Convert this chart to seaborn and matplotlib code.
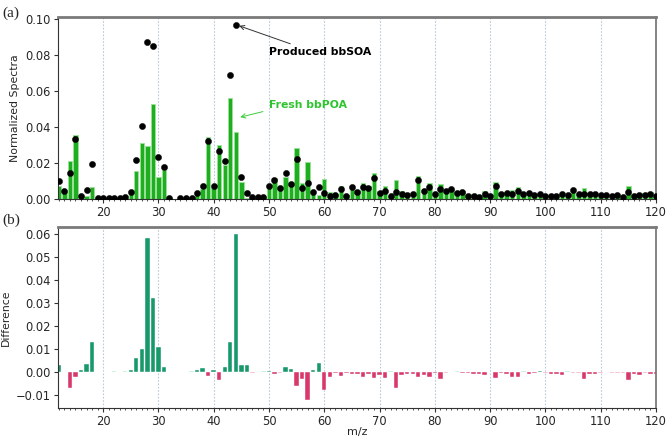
import numpy as np
import pandas as pd
import matplotlib
matplotlib.use("Agg")
import matplotlib.pyplot as plt
from matplotlib.ticker import MultipleLocator
import seaborn as sns

nan = np.nan
mz = list(range(12, 121))

fresh_bbpoa = [
    0.0073, 0.0044, 0.021, 0.0356, 0.001, 0.0017, 0.0067, 0.0005, 0.0004, 0.0004,   # 12-21
    0.0002, 0.0004, 0.0009, 0.003, 0.0157, 0.031, 0.0294, 0.053, 0.0124, 0.016,     # 22-31
    0.0003, nan, 0.0003, 0.0003, 0.0001, 0.0024, 0.0056, 0.0343, 0.0062, 0.0301,     # 32-41
    0.0188, 0.0563, 0.037, 0.0093, 0.0006, 0.0015, 0.0007, 0.001, 0.0065, 0.0115,    # 42-51
    0.0065, 0.012, 0.0072, 0.0285, 0.0089, 0.0207, 0.003, 0.0023, 0.011, 0.0037,     # 52-61
    0.0028, 0.0072, 0.0023, 0.0078, 0.005, 0.009, 0.0073, 0.0143, 0.0045, 0.0072,    # 62-71
    0.0014, 0.0106, 0.0042, 0.0034, 0.0039, 0.0128, 0.0058, 0.0089, 0.0032, 0.0085,  # 72-81
    0.0045, 0.0056, 0.0028, 0.0043, 0.0023, 0.0029, 0.0023, 0.0043, 0.0019, 0.0097,  # 82-91
    0.0032, 0.0041, 0.0048, 0.0065, 0.0027, 0.0043, 0.0026, 0.0024, 0.0017, 0.0026,  # 92-101
    0.0027, 0.0039, 0.0021, 0.0052, 0.0028, 0.006, 0.0033, 0.0039, 0.0023, 0.0022,   # 102-111
    0.0021, 0.0024, 0.0016, 0.0074, 0.0026, 0.0034, 0.0024, 0.0039, 0.0026,          # 112-120
]

produced_bbsoa = [
    0.0102, 0.0045, 0.0143, 0.0333, 0.0017, 0.005, 0.0194, 0.0005, 0.0004, 0.0004,   # 12-21
    0.0005, 0.0004, 0.0013, 0.004, 0.0217, 0.0407, 0.0874, 0.085, 0.0235, 0.018,     # 22-31
    0.0003, nan, 0.0003, 0.0003, 0.0004, 0.0035, 0.0073, 0.0324, 0.0072, 0.0265,     # 32-41
    0.021, 0.069, 0.0965, 0.0125, 0.0035, 0.0013, 0.0009, 0.0013, 0.007, 0.0108,     # 42-51
    0.0063, 0.0143, 0.0085, 0.0222, 0.006, 0.0089, 0.004, 0.0065, 0.0035, 0.0017,    # 52-61
    0.0022, 0.0053, 0.0017, 0.0068, 0.0039, 0.0069, 0.0063, 0.0115, 0.0033, 0.0046,  # 62-71
    0.0017, 0.0037, 0.0028, 0.0024, 0.003, 0.0105, 0.0044, 0.0069, 0.0028, 0.0056,   # 72-81
    0.0043, 0.0056, 0.0031, 0.0037, 0.0019, 0.0019, 0.0013, 0.003, 0.0019, 0.007,    # 82-91
    0.0026, 0.0031, 0.0026, 0.0043, 0.003, 0.0033, 0.0022, 0.003, 0.0015, 0.0017,    # 92-101
    0.0017, 0.0026, 0.0024, 0.005, 0.0026, 0.003, 0.0026, 0.003, 0.002, 0.0024,      # 102-111
    0.0019, 0.0022, 0.0013, 0.0037, 0.0019, 0.002, 0.0022, 0.003, 0.0019,            # 112-120
]

difference = [
    0.0029, 0.0, -0.0069, -0.0022, 0.0007, 0.0033, 0.0131, 0.0, 0.0, 0.0,            # 12-21
    0.0003, 0.0, 0.0004, 0.0011, 0.0062, 0.010, 0.0579, 0.032, 0.011, 0.002,         # 22-31
    0.0, 0.0, 0.0, 0.0, 0.0003, 0.0011, 0.0017, -0.0019, 0.001, -0.0036,             # 32-41
    0.0022, 0.0129, 0.0596, 0.0032, 0.0029, -0.0002, 0.0002, 0.0003, 0.0005, -0.0007, # 42-51
    -0.0002, 0.0023, 0.0013, -0.0062, -0.0032, -0.012, 0.001, 0.004, -0.0076, -0.002, # 52-61
    -0.0006, -0.0019, -0.0006, -0.001, -0.001, -0.0022, -0.001, -0.0027, -0.0013, -0.0024,  # 62-71
    0.0003, -0.0069, -0.0014, -0.001, -0.0009, -0.0023, -0.0014, -0.0022, -0.0004, -0.0029, # 72-81
    -0.0002, 0.0, 0.0003, -0.0006, -0.0004, -0.001, -0.001, -0.0013, 0.0, -0.0027,   # 82-91
    -0.0006, -0.001, -0.0022, -0.0023, 0.0003, -0.001, -0.0004, 0.0006, -0.0002, -0.0009,   # 92-101
    -0.001, -0.0013, 0.0003, -0.0002, -0.0002, -0.003, -0.0007, -0.0009, -0.0003, 0.0002,   # 102-111
    -0.0002, -0.0002, -0.0003, -0.0036, -0.0007, -0.0014, -0.0002, -0.0009, -0.0007,        # 112-120
]

top_df = pd.DataFrame({"mz": mz, "poa": fresh_bbpoa, "soa": produced_bbsoa})
diff_df = pd.DataFrame({"mz": mz, "diff": difference})


def shade(v):
    if v >= 0.0005:
        return "pos"
    if v > 0:
        return "pos_light"
    if v <= -0.0004:
        return "neg"
    return "neg_light"


diff_df["kind"] = diff_df["diff"].apply(shade)
diff_palette = {"pos": "#17996b", "pos_light": "#a3ecc3",
                "neg": "#d8386a", "neg_light": "#f19ab6"}

sns.set_theme(style="ticks")
plt.rcParams["font.family"] = ["DejaVu Sans"]

fig = plt.figure(figsize=(6.67, 4.4), dpi=100)
ax1 = fig.add_axes([0.087, 0.5477, 0.8965, 0.4137])
ax2 = fig.add_axes([0.087, 0.0725, 0.8965, 0.4115])

bar_green = "#1fae1f"
sns.barplot(data=top_df, x="mz", y="poa", native_scale=True, width=0.8,
            color=bar_green, edgecolor="#9be39b", linewidth=0.6,
            saturation=1, errorbar=None, ax=ax1, zorder=2)
sns.scatterplot(data=top_df, x="mz", y="soa", color="black", s=20,
                edgecolor="black", linewidth=0.3, ax=ax1, zorder=3)

sns.barplot(data=diff_df, x="mz", y="diff", hue="kind", palette=diff_palette,
            native_scale=True, width=0.8, dodge=False, saturation=1,
            edgecolor="white", linewidth=0.3, errorbar=None,
            legend=False, ax=ax2, zorder=2)

for ax in (ax1, ax2):
    ax.set_xlim(11.85, 120)
    ax.xaxis.set_major_locator(MultipleLocator(10))
    ax.xaxis.set_minor_locator(MultipleLocator(1))
    ax.grid(axis="x", which="major", color="#b9cad9", linestyle=(0, (1.5, 1.5)),
            linewidth=0.8, zorder=0)
    ax.set_axisbelow(True)
    ax.tick_params(axis="both", which="major", labelsize=8.3, length=3,
                   width=0.8, color="#333333", pad=2)
    ax.tick_params(axis="x", which="minor", length=1.5, width=0.6, color="#333333")
    for side in ("left", "bottom"):
        ax.spines[side].set_color("#333333")
        ax.spines[side].set_linewidth(0.8)
    for side in ("top", "right"):
        ax.spines[side].set_visible(True)
        ax.spines[side].set_color("#7a7a7a")
        ax.spines[side].set_linewidth(1.3)
    ax.spines["top"].set_linewidth(2.0)

ax1.set_ylim(0, 0.1012)
ax1.yaxis.set_major_locator(MultipleLocator(0.02))
ax1.yaxis.set_major_formatter(matplotlib.ticker.FormatStrFormatter("%.2f"))
ax1.set_xlabel("")
ax1.set_ylabel("Normalized Spectra", fontsize=7.8, labelpad=4)

ax2.set_ylim(-0.0156, 0.0628)
ax2.yaxis.set_major_locator(MultipleLocator(0.01))
ax2.yaxis.set_major_formatter(matplotlib.ticker.FuncFormatter(
    lambda v, p: f"{v:.2f}".replace("-", "\u2212") if abs(v) > 1e-9 else "0.00"))
ax2.set_xlabel("m/z", fontsize=8.0, labelpad=-0.5)
ax2.set_ylabel("Difference", fontsize=7.8, labelpad=4)

ax1.annotate("Produced bbSOA", xy=(44.6, 0.0963), xytext=(50.0, 0.0817),
             fontsize=7.8, fontweight="bold", color="black", va="center",
             arrowprops=dict(arrowstyle="->", color="#333333", lw=0.7,
                             shrinkA=0, shrinkB=0, relpos=(0.3, 1.0)))
ax1.annotate("Fresh bbPOA", xy=(44.8, 0.0455), xytext=(50.0, 0.0522),
             fontsize=7.8, fontweight="bold", color="#2ec42e", va="center",
             arrowprops=dict(arrowstyle="->", color="#3ccc3c", lw=0.7,
                             shrinkA=2, shrinkB=0, relpos=(0.0, 0.0)))

fig.text(0.004, 0.985, "(a)", fontsize=11, family="Liberation Serif",
         va="top", ha="left")
fig.text(0.004, 0.515, "(b)", fontsize=11, family="Liberation Serif",
         va="top", ha="left")

fig.savefig("out.png", dpi=100)
